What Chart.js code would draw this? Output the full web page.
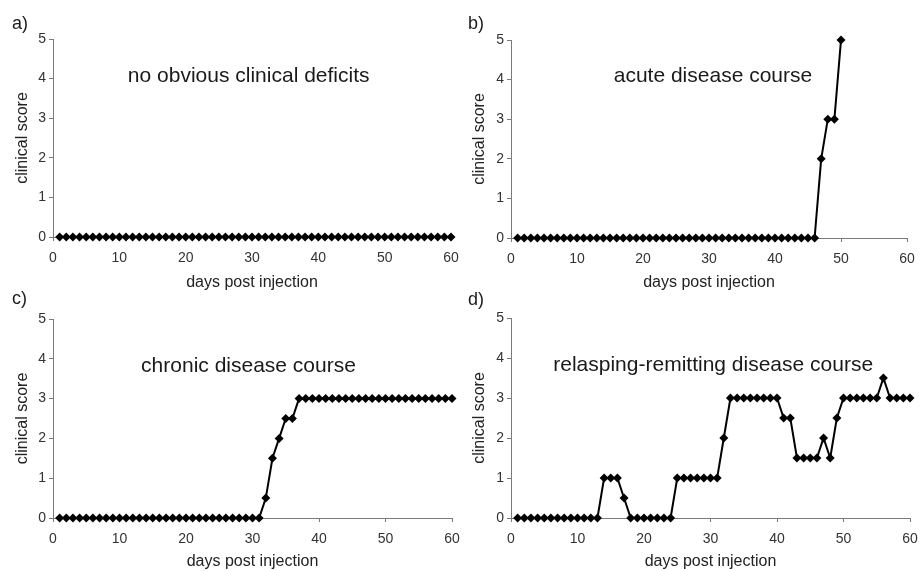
<!DOCTYPE html>
<html>
<head>
<meta charset="utf-8">
<script src="https://cdn.jsdelivr.net/npm/chart.js@4"></script>
<style>
  body { margin: 0; background: #fff; }
  #wrap { position: relative; width: 920px; height: 571px; overflow: hidden; }
  canvas { position: absolute; }
</style>
</head>
<body>
<div id="wrap">
  <canvas id="chartA" width="460" height="292" style="left:0;top:0"></canvas>
  <canvas id="chartB" width="460" height="292" style="left:460px;top:0"></canvas>
  <canvas id="chartC" width="460" height="291" style="left:0;top:280px"></canvas>
  <canvas id="chartD" width="460" height="291" style="left:460px;top:280px"></canvas>
</div>
<script>
// days post injection
const days = [1, 2, 3, 4, 5, 6, 7, 8, 9, 10, 11, 12, 13, 14, 15, 16, 17, 18, 19, 20,
  21, 22, 23, 24, 25, 26, 27, 28, 29, 30, 31, 32, 33, 34, 35, 36, 37, 38, 39, 40,
  41, 42, 43, 44, 45, 46, 47, 48, 49, 50, 51, 52, 53, 54, 55, 56, 57, 58, 59, 60];

// clinical scores per panel
const scoresA = [0, 0, 0, 0, 0, 0, 0, 0, 0, 0, 0, 0, 0, 0, 0, 0, 0, 0, 0, 0,
  0, 0, 0, 0, 0, 0, 0, 0, 0, 0, 0, 0, 0, 0, 0, 0, 0, 0, 0, 0,
  0, 0, 0, 0, 0, 0, 0, 0, 0, 0, 0, 0, 0, 0, 0, 0, 0, 0, 0, 0];
const scoresB = [0, 0, 0, 0, 0, 0, 0, 0, 0, 0, 0, 0, 0, 0, 0, 0, 0, 0, 0, 0,
  0, 0, 0, 0, 0, 0, 0, 0, 0, 0, 0, 0, 0, 0, 0, 0, 0, 0, 0, 0,
  0, 0, 0, 0, 0, 0, 2, 3, 3, 5];
const scoresC = [0, 0, 0, 0, 0, 0, 0, 0, 0, 0, 0, 0, 0, 0, 0, 0, 0, 0, 0, 0,
  0, 0, 0, 0, 0, 0, 0, 0, 0, 0, 0, 0.5, 1.5, 2, 2.5, 2.5, 3, 3, 3, 3,
  3, 3, 3, 3, 3, 3, 3, 3, 3, 3, 3, 3, 3, 3, 3, 3, 3, 3, 3, 3];
const scoresD = [0, 0, 0, 0, 0, 0, 0, 0, 0, 0, 0, 0, 0, 1, 1, 1, 0.5, 0, 0, 0,
  0, 0, 0, 0, 1, 1, 1, 1, 1, 1, 1, 2, 3, 3, 3, 3, 3, 3, 3, 3,
  2.5, 2.5, 1.5, 1.5, 1.5, 1.5, 2, 1.5, 2.5, 3, 3, 3, 3, 3, 3, 3.5, 3, 3, 3, 3];

const panelLetters = ["a)", "b)", "c)", "d)"];
const panelTitles = [
  "no obvious clinical deficits",
  "acute disease course",
  "chronic disease course",
  "relasping-remitting disease course"
];
const xTicks = [0, 10, 20, 30, 40, 50, 60];
const yTicks = [0, 1, 2, 3, 4, 5];

const FONT = "'Liberation Sans', Arial, sans-serif";
const AXIS = "#7a7a7a";

// draws the panel letter and the caption inside the plot
const captionPlugin = {
  id: "caption",
  afterDraw(chart, args, opts) {
    const ctx = chart.ctx;
    ctx.save();
    ctx.fillStyle = "#1a1a1a";
    ctx.font = "18px " + FONT;
    ctx.textAlign = "left";
    ctx.textBaseline = "alphabetic";
    ctx.fillText(opts.letter, opts.letterX, opts.letterY);
    ctx.font = "21px " + FONT;
    ctx.textAlign = "center";
    const x = chart.scales.x.getPixelForValue(opts.at[0]);
    const y = chart.scales.y.getPixelForValue(opts.at[1]);
    ctx.fillText(opts.text, x, y);
    ctx.restore();
  }
};

function makePanel(id, scores, idx, box) {
  const points = scores.map((s, i) => ({ x: days[i], y: s }));
  return new Chart(document.getElementById(id), {
    type: "line",
    data: {
      datasets: [{
        data: points,
        borderColor: "#000",
        borderWidth: 2,
        tension: 0,
        pointStyle: "rectRot",
        pointRadius: 4.5,
        pointBorderWidth: 0,
        pointBackgroundColor: "#000",
        clip: false
      }]
    },
    options: {
      responsive: false,
      animation: false,
      devicePixelRatio: 1,
      layout: { padding: { top: box.top, right: box.right, left: 0, bottom: 0 } },
      plugins: {
        legend: { display: false },
        tooltip: { enabled: false },
        caption: {
          letter: panelLetters[idx], letterX: box.letterX, letterY: box.letterY,
          text: panelTitles[idx], at: box.at
        }
      },
      scales: {
        x: {
          type: "linear",
          min: 0, max: 60,
          afterBuildTicks: s => { s.ticks = xTicks.map(v => ({ value: v })); },
          afterFit: s => { s.height = box.xh; s.paddingLeft = 0; s.paddingRight = 0; },
          ticks: { color: "#333", font: { family: FONT, size: 14 }, padding: 9, maxRotation: 0 },
          grid: { drawOnChartArea: false, drawTicks: true, tickLength: 4, color: AXIS },
          border: { color: AXIS, width: 1 },
          title: { display: true, text: "days post injection", color: "#222",
                   font: { family: FONT, size: 16 }, padding: 0 }
        },
        y: {
          min: 0, max: 5,
          afterBuildTicks: s => { s.ticks = yTicks.map(v => ({ value: v })); },
          afterFit: s => { s.width = box.yw; s.paddingTop = 0; s.paddingBottom = 0; },
          ticks: { color: "#333", font: { family: FONT, size: 14 }, padding: 3 },
          grid: { drawOnChartArea: false, drawTicks: true, tickLength: 4, color: AXIS },
          border: { color: AXIS, width: 1 },
          title: { display: true, text: "clinical score", color: "#222",
                   font: { family: FONT, size: 16 }, padding: { top: box.ytp, bottom: 0 } }
        }
      }
    },
    plugins: [captionPlugin]
  });
}

makePanel("chartA", scoresA, 0, { top: 39, right: 9, xh: 55, yw: 53, ytp: 13, letterX: 12, letterY: 29, at: [29.5, 3.91] });
makePanel("chartB", scoresB, 1, { top: 40, right: 13, xh: 54, yw: 51, ytp: 10, letterX: 8, letterY: 29, at: [30.6, 3.95] });
makePanel("chartC", scoresC, 2, { top: 39, right: 8, xh: 53, yw: 53, ytp: 13, letterX: 12, letterY: 24, at: [29.4, 3.68] });
makePanel("chartD", scoresD, 3, { top: 38, right: 10, xh: 53, yw: 51, ytp: 10, letterX: 8, letterY: 25, at: [30.4, 3.68] });
</script>
</body>
</html>
